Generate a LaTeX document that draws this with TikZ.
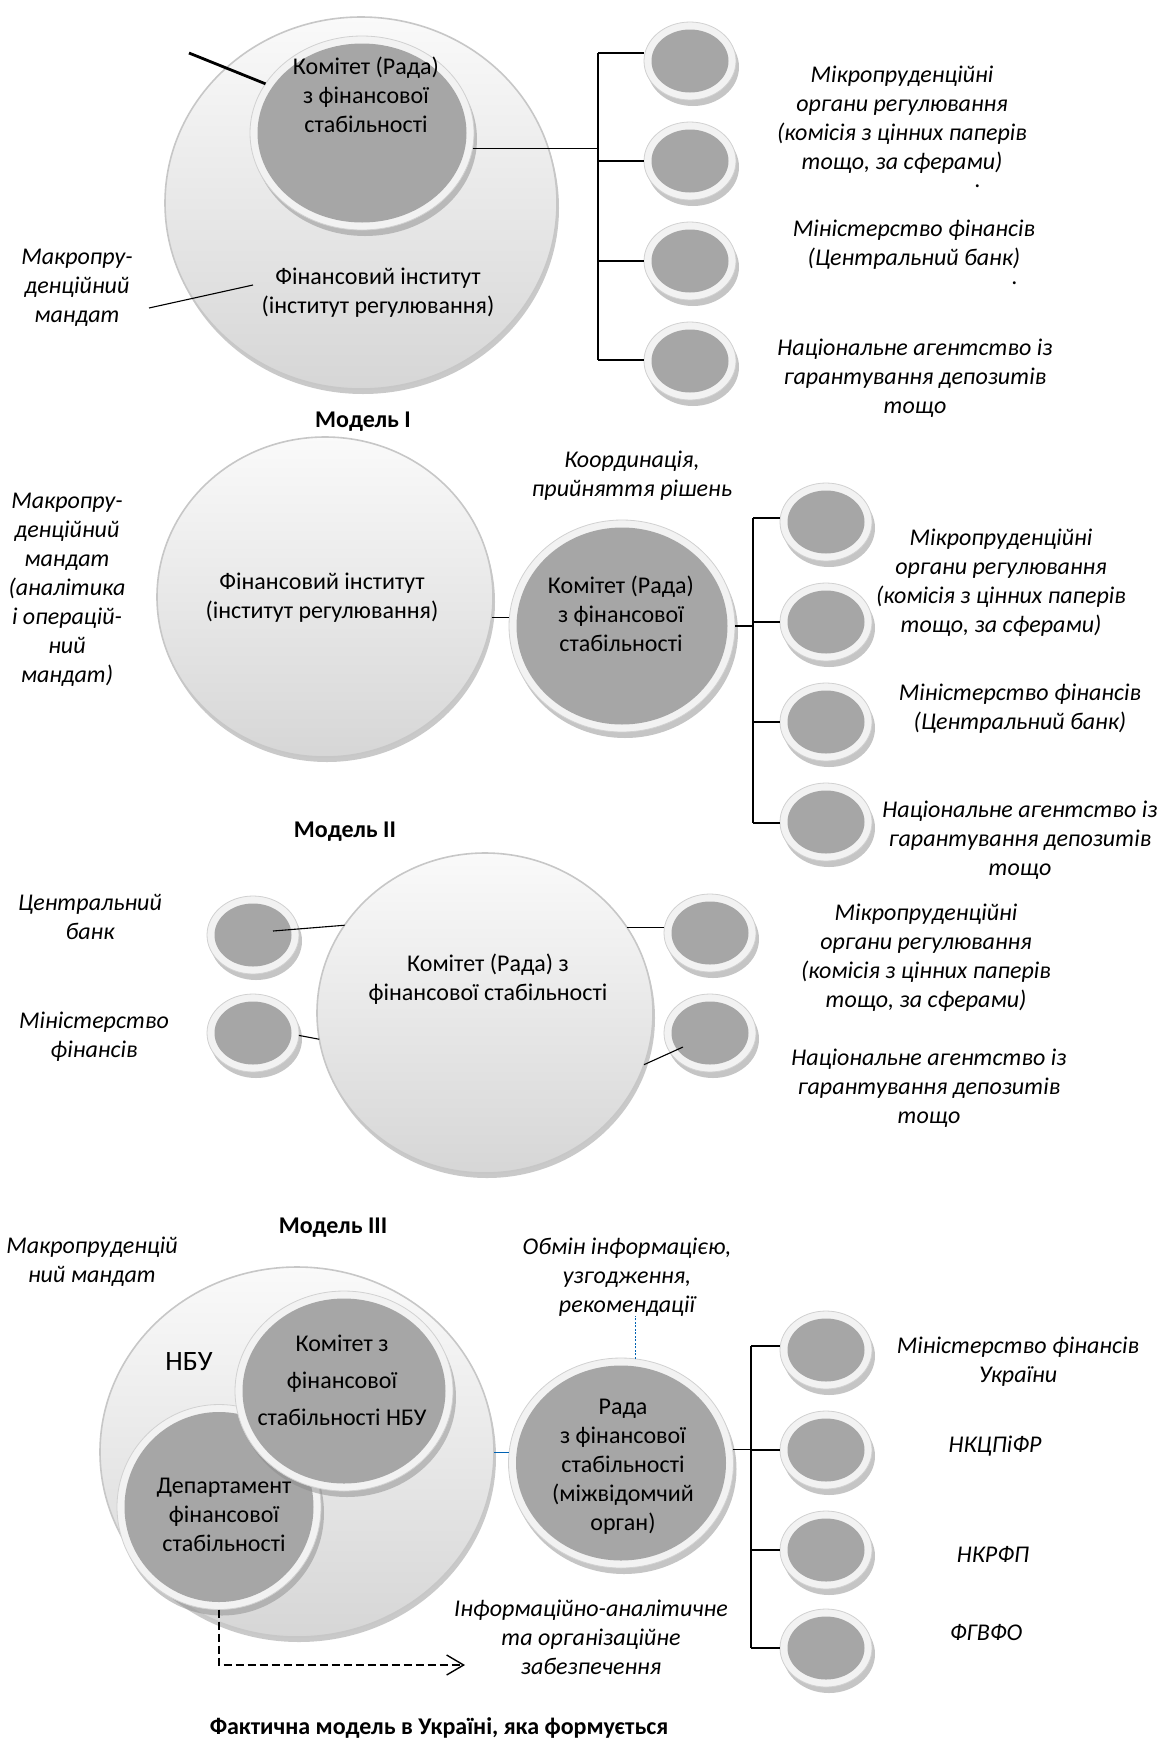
\documentclass[tikz,border=0pt]{standalone}
\usepackage{fontspec}
\setmainfont{Carlito}
\usetikzlibrary{shapes.geometric,shadows,arrows.meta}
\begin{document}
\begin{tikzpicture}[x=1pt,y=-1pt,
  every node/.style={inner sep=0pt,outer sep=0pt},
  txt/.style={font=\fontsize{24}{29}\selectfont,align=center},
  itx/.style={font=\fontsize{24}{29}\selectfont\itshape,align=center},
  ttl/.style={font=\fontsize{24}{29}\selectfont\bfseries,align=center},
  dotx/.style={font=\fontsize{24}{24}\selectfont\itshape},
  bigc/.style 2 args={ellipse,minimum width=#1pt,minimum height=#2pt,draw=black!22,line width=1.6pt,top color=black!2,bottom color=black!16,drop shadow={shadow xshift=2pt,shadow yshift=-5pt,opacity=0.35,fill=black!60}},
  ringc/.style 2 args={ellipse,minimum width=#1pt,minimum height=#2pt,fill=black!5,draw=black!18,line width=0.8pt,drop shadow={shadow xshift=3pt,shadow yshift=-6pt,opacity=0.5,fill=black!45},path picture={\fill[black!35] (path picture bounding box.center) ellipse [x radius=#1*0.5pt-7.5pt,y radius=#2*0.5pt-7.5pt];}},
  smallc/.style={ringc={92}{78}},
  conn/.style={draw=black,line width=1.1pt},
  blueln/.style={draw=blue!45!cyan!70!black,line width=0.9pt},
]
\fill[white] (0,0) rectangle (1163,1746);
\useasboundingbox (0,0) rectangle (1163,1746);

% ================= Model I =================
\node[bigc={392}{372}] (finI) at (361,203) {};
\node[ringc={224}{194}] (komI) at (362,133) {};
\node[txt] (komIt) at (366,95) {Комітет (Рада)\\з фінансової\\стабільності};
\node[txt] (finIt) at (378,293) {Фінансовий інститут\\(інститут регулювання)};
\node[itx] (macroI) at (77,288) {Макропру-\\денційний\\мандат};
\node[ttl] (modI) at (363,422) {Модель І};
\coordinate (tlI) at (189,53);
\draw[line width=2.8pt] (tlI) -- (komI.153);
\coordinate (mlIa) at (149,308);
\coordinate (mlIb) at (253,285);
\draw[conn] (mlIa) -- (mlIb);

\foreach \i/\y in {1/61,2/161,3/261,4/361} \node[smallc] (sI\i) at (690,\y) {};
\coordinate (bIt) at (598,53);
\coordinate (bIb) at (598,360);
\draw[conn] (bIt) -- (bIb);
\draw[conn] (bIt) -- (bIt -| sI1.west);
\draw[conn] (sI2.west -| bIt) -- (sI2.west);
\draw[conn] (sI3.west -| bIt) -- (sI3.west);
\draw[conn] (bIb) -- (bIb -| sI4.west);
\draw[conn] (komI.-8) -- (komI.-8 -| bIt);

\node[itx] (tI1) at (902,120) {Мікропруденційні\\органи регулювання\\(комісія з цінних паперів\\тощо, за сферами)};
\node[dotx] (dI1) at (978,186) {.};
\node[itx] (tI2) at (914,245) {Міністерство фінансів\\(Центральний банк)};
\node[dotx] (dI2) at (1015,283) {.};
\node[itx] (tI3) at (915,378) {Національне агентство із\\гарантування депозитів\\тощо};

% ================= Model II =================
\node[bigc={336}{320}] (finII) at (325,597) {};
\node[txt] (finIIt) at (322,598) {Фінансовий інститут\\(інститут регулювання)};
\node[itx] (macroII) at (67,590) {Макропру-\\денційний\\мандат\\(аналітика\\і операцій-\\ний\\мандат)};
\node[ringc={226}{212}] (komII) at (622,626) {};
\node[txt] (komIIt) at (621,614) {Комітет (Рада)\\з фінансової\\стабільності};
\node[itx] (coord) at (632,476) {Координація,\\прийняття рішень};
\draw[conn] (finII.-7) -- (finII.-7 -| komII.west);
\node[ttl] (modII) at (345,832) {Модель ІІ};

\foreach \i/\y in {1/522,2/622,3/722,4/822} \node[smallc] (sII\i) at (826,\y) {};
\coordinate (bIIt) at (753,518);
\coordinate (bIIb) at (753,823);
\draw[conn] (bIIt) -- (bIIb);
\draw[conn] (bIIt) -- (bIIt -| sII1.west);
\draw[conn] (sII2.west -| bIIt) -- (sII2.west);
\draw[conn] (sII3.west -| bIIt) -- (sII3.west);
\draw[conn] (bIIb) -- (bIIb -| sII4.west);
\draw[conn] (komII.east) -- (komII.east -| bIIt);

\node[itx] (tII1) at (1001,583) {Мікропруденційні\\органи регулювання\\(комісія з цінних паперів\\тощо, за сферами)};
\node[itx] (tII2) at (1020,709) {Міністерство фінансів\\(Центральний банк)};
\node[itx] (tII3) at (1020,840) {Національне агентство із\\гарантування депозитів\\тощо};

% ================= Model III =================
\node[bigc={336}{320}] (komIII) at (485,1013) {};
\node[txt] (komIIIt) at (488,979) {Комітет (Рада) з\\фінансової стабільності};
\node[smallc] (sIIIa) at (253,935) {};
\node[smallc] (sIIIb) at (253,1033) {};
\node[smallc] (sIIIc) at (710,933) {};
\node[smallc] (sIIId) at (710,1033) {};
\draw[conn] ([xshift=20pt,yshift=4pt]sIIIa.center) -- (komIII.148);
\draw[conn] (sIIIb.-3) -- (komIII.189);
\draw[conn] (komIII.31) -- (komIII.31 -| sIIIc.west);
\draw[conn] (komIII.-18) -- ([xshift=-27pt,yshift=-14pt]sIIId.center);
\node[itx] (tIIIa) at (90,917) {Центральний\\банк};
\node[itx] (tIIIb) at (94,1037) {Міністерство\\фінансів};
\node[itx] (tIIIc) at (926,958) {Мікропруденційні\\органи регулювання\\(комісія з цінних паперів\\тощо, за сферами)};
\node[itx] (tIIId) at (929,1088) {Національне агентство із\\гарантування депозитів\\тощо};
\node[ttl] (modIII) at (333,1228) {Модель ІІІ};

% ================= Fact model =================
\node[itx] (macroF) at (92,1262) {Макропруденцій\\ний мандат};
\node[bigc={394}{370}] (nbu) at (297,1452) {};
\node[font=\fontsize{28}{30}\selectfont] (nbut) at (189,1362) {НБУ};
\node[ringc={204}{205}] (dep) at (219,1507) {};
\node[ringc={218}{200}] (komN) at (344,1391) {};
\node[txt] (dept) at (224,1515) {Департамент\\фінансової\\стабільності};
\node[font=\fontsize{24}{37}\selectfont,align=center] (komNt) at (342,1380) {Комітет з\\фінансової\\стабільності НБУ};
\node[ringc={225}{210}] (rada) at (621,1463) {};
\node[txt] (radat) at (623,1467) {Рада\\з фінансової\\стабільності\\(міжвідомчий\\орган)};
\node[itx] (obm) at (627,1277) {Обмін інформацією,\\узгодження,\\рекомендації};
\draw[blueln,dashed,dash pattern=on 2pt off 1.5pt] (rada.82) -- (rada.82 |- obm.south);
\draw[blueln] (nbu.east) -- (nbu.east -| rada.west);

\foreach \i/\y in {1/1350,2/1450,3/1550,4/1648} \node[smallc] (sF\i) at (826,\y) {};
\coordinate (bFt) at (751,1346);
\coordinate (bFb) at (751,1648);
\draw[conn] (bFt) -- (bFb);
\draw[conn] (bFt) -- (bFt -| sF1.west);
\draw[conn] (sF2.west -| bFt) -- (sF2.west);
\draw[conn] (sF3.west -| bFt) -- (sF3.west);
\draw[conn] (bFb) -- (bFb -| sF4.west);
\draw[conn] (rada.7) -- (rada.7 -| bFt);

\coordinate (arrEnd) at (465,1665);
\draw[line width=1.2pt,dashed,dash pattern=on 8pt off 4pt,-{Straight Barb[length=17pt,width=20pt,line width=1.4pt]}] (dep.south) |- (arrEnd);

\node[itx] (tF1) at (1018,1362) {Міністерство фінансів\\України};
\node[itx] (tF2) at (995,1446) {НКЦПіФР};
\node[itx] (tF3) at (993,1554) {НКРФП};
\node[itx] (tF4) at (986,1633) {ФГВФО};
\node[itx] (infa) at (591,1637) {Інформаційно-аналітичне\\та організаційне\\забезпечення};
\node[ttl] (titleF) at (439,1728) {Фактична модель в Україні, яка формується};
\end{tikzpicture}
\end{document}
